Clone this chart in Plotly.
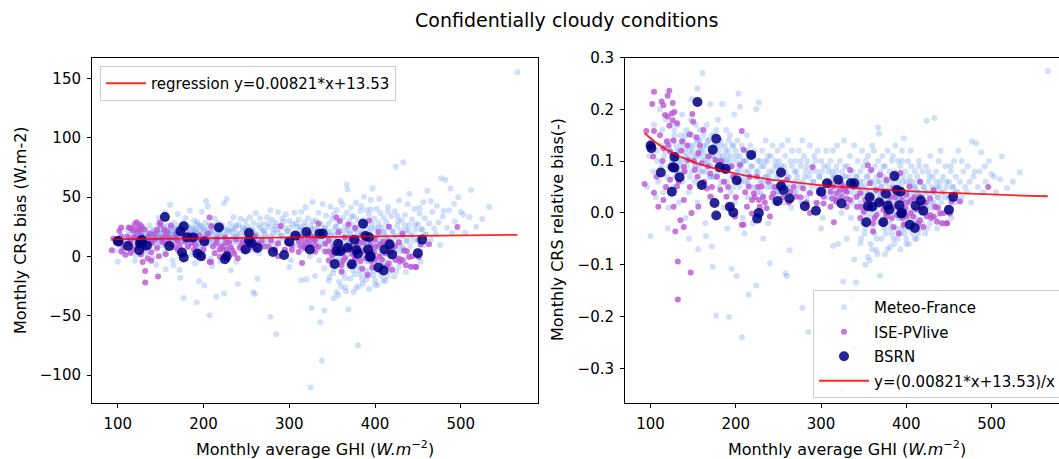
import numpy as np
import plotly.graph_objects as go

# ---------------------------------------------------------------------------
# Monthly values under confidentially cloudy conditions.
# *_ghi : monthly average GHI (W.m-2)
# *_rel : monthly CRS relative bias (-)  -> absolute bias = rel * ghi
# ---------------------------------------------------------------------------

# Meteo-France stations
mf_ghi = [
    96, 98, 100, 101, 103, 104, 106, 107, 108, 109,
    111, 112, 113, 114, 115, 116, 118, 119, 120, 121, 123, 124, 125, 127, 128, 129,
    130, 131, 132, 133, 134, 135, 136, 137, 138, 139, 140, 141, 142, 143, 144, 145, 146, 147, 148, 148, 149, 150,
    151, 152, 153, 154, 155, 155, 156, 157, 158, 159, 160, 161, 161, 162, 163, 164, 165, 166, 167, 168, 169, 170,
    170, 171, 172, 173, 174, 175, 176, 177, 178, 179, 180, 181, 182, 183, 184, 185, 186, 187, 188, 189, 189, 190,
    191, 192, 193, 194, 195, 196, 197, 198, 199, 200, 201, 202, 203, 204, 205, 205, 206, 207, 208, 209,
    210, 211, 212, 213, 214, 215, 216, 217, 218, 219, 220, 221, 222, 224, 225, 226, 227, 229,
    230, 231, 232, 234, 235, 236, 237, 238, 239, 241, 242, 243, 245, 246, 248, 249,
    250, 251, 252, 254, 255, 256, 257, 258, 260, 261, 262, 264, 265, 266, 268, 269,
    270, 271, 272, 274, 275, 276, 277, 278, 279, 280, 282, 283, 284, 286, 287, 289,
    290, 291, 292, 294, 295, 296, 297, 298, 300, 301, 302, 304, 305, 306, 308, 309,
    310, 311, 312, 313, 314, 315, 316, 317, 318, 319, 320, 321, 322, 324, 325, 326, 327, 329,
    330, 331, 332, 333, 334, 335, 336, 337, 338, 339, 340, 341, 342, 343, 344, 345, 346, 347, 348, 349, 349, 350,
    350, 351, 352, 353, 354, 355, 355, 356, 357, 358, 359, 360, 360, 361, 362, 363, 364, 365, 365, 366, 367, 367,
    368, 368, 369, 369, 370, 370,
    371, 372, 372, 373, 374, 375, 375, 376, 377, 378, 378, 379, 380, 380, 381, 382, 383, 383, 384, 385, 385, 386,
    387, 387, 388, 388, 389, 389, 390, 390,
    391, 391, 392, 393, 393, 394, 395, 395, 396, 397, 397, 398, 399, 399, 400, 400, 401, 402, 402, 403, 404, 404,
    405, 406, 406, 407, 408, 408, 409, 410,
    411, 411, 412, 413, 414, 414, 415, 416, 417, 418, 418, 419, 420, 421, 422, 423, 424, 424, 425, 426, 427, 428,
    429, 430,
    431, 432, 433, 433, 434, 435, 436, 437, 438, 439, 440, 441, 442, 443, 445, 446, 447, 449,
    450, 451, 452, 453, 455, 456, 457, 458, 460, 461, 463, 465, 467, 469,
    471, 472, 474, 476, 477, 479, 482, 484, 486, 488, 490, 493, 497, 500, 505, 510, 512, 518, 525, 533, 566,
    156, 165, 172, 173, 177, 192, 195, 201, 207, 215, 224, 240, 263, 258, 260, 278, 285, 314, 346, 355,
    357, 365, 369, 381, 393, 326, 341, 320, 339, 338, 380, 325, 352, 330, 300, 232, 210, 190, 145, 120,
    400, 410, 375, 360, 336,
    117, 121, 126, 129, 133, 136, 138, 141, 143, 146, 149, 152, 154, 157, 159, 162, 164, 167, 169, 172,
    174, 176, 179, 181, 183, 186, 188, 191, 193, 196, 198, 201, 203, 206, 208, 211, 213, 216, 218, 221,
    223, 226, 228, 231, 233, 236, 238, 241, 243, 246, 248, 251, 253, 256, 258,
    125, 128, 131, 134, 137, 140, 142, 145, 147, 150, 153, 156, 158, 161, 163, 166, 168, 171, 173, 175,
    178, 180, 182, 185, 187, 190, 192, 195, 197, 200, 204, 209, 214, 219, 224, 229, 234, 239, 244, 249,
    261, 263, 266, 268, 271, 273, 276, 278, 281, 283, 286, 288, 291, 293, 296, 298, 301, 303, 306, 308,
    311, 313, 316, 318, 321, 323, 326, 328, 331, 333, 336, 338, 341, 343, 345,
    346, 348, 351, 353, 354, 356, 358, 359, 361, 362, 364, 366, 367, 369, 371, 372, 374, 376, 377, 379,
    381, 382, 384, 386, 387, 389, 391, 392, 394, 396, 397, 399, 401, 402, 404, 406, 407, 409, 411, 412,
    414, 416, 417, 419, 421, 423, 425, 427, 429, 431, 433, 435, 437, 439, 441, 444, 447, 450, 454, 458,
    347, 352, 358, 363, 366, 371, 374, 378, 383, 386, 390, 394, 398, 403, 407, 412, 417, 422, 428, 436,
    352, 362, 373, 384, 395, 405, 415, 426, 440, 452, 465, 480, 492, 503,
]
mf_rel = [
    0.05, 0.11, -0.045, 0.14, 0.08, 0.17, 0.03, 0.12, 0.10, 0.06,
    0.20, 0.13, 0.09, 0.16, 0.04, 0.11, 0.18, 0.07, 0.14, 0.01, 0.12, 0.17, 0.09, 0.05, 0.15, 0.11,
    0.13, 0.08, 0.17, 0.02, 0.12, 0.15, 0.10, 0.19, 0.06, 0.14, 0.11, -0.01, 0.16, 0.09, 0.13, 0.04, 0.12, 0.18, 0.22, 0.08, 0.15, 0.10,
    0.13, 0.06, 0.17, 0.11, 0.24, 0.02, 0.14, 0.09, 0.16, 0.12, 0.05, 0.27, 0.10, 0.15, 0.13, -0.02, 0.08, 0.17, 0.11, 0.14, 0.07, 0.21,
    0.12, 0.09, 0.15, 0.03, 0.11, 0.13, 0.07, 0.16, 0.10, 0.18, 0.12, 0.05, 0.14, 0.09, 0.21, 0.11, 0.01, 0.13, 0.08, 0.16, 0.10, 0.06,
    0.12, 0.09, 0.15, 0.04, 0.11, 0.07, 0.13, 0.19, 0.02, 0.10, 0.08, 0.14, 0.23, 0.05, 0.205, 0.11, 0.09, 0.13, -0.01, 0.07,
    0.12, 0.06, 0.10, 0.15, 0.03, 0.08, 0.11, 0.13, 0.05, 0.09, -0.02, 0.07, 0.12, 0.20, 0.04, 0.10, 0.213, 0.06,
    0.09, 0.12, 0.03, 0.07, 0.14, 0.05, 0.10, -0.02, 0.08, 0.11, 0.06, 0.13, 0.02, 0.09, 0.07, 0.12,
    0.04, 0.10, 0.08, 0.13, 0.06, 0.02, 0.09, 0.11, 0.05, 0.14, 0.07, 0.10, 0.01, 0.12, 0.06, 0.08,
    0.10, 0.04, 0.07, 0.12, 0.05, 0.09, 0.02, 0.14, 0.06, 0.11, 0.08, 0.03, 0.10, 0.07, 0.13, 0.05,
    0.09, 0.06, 0.11, 0.02, 0.08, 0.12, 0.04, 0.07, 0.10, 0.05, -0.01, 0.09, 0.06, 0.12, 0.03, 0.08,
    0.06, 0.10, 0.04, 0.08, 0.12, 0.02, 0.07, 0.05, 0.09, 0.13, 0.03, 0.06, 0.10, 0.00, 0.08, 0.04, 0.14, 0.07,
    0.05, 0.09, 0.02, 0.07, 0.11, -0.01, 0.04, 0.08, 0.06, 0.13, 0.03, -0.03, 0.07, 0.10, 0.05, 0.01, 0.08, 0.04, 0.12, -0.02, 0.06, 0.03,
    0.09, -0.04, 0.05, 0.02, 0.07, 0.11, -0.01, 0.04, 0.08, 0.00, 0.06, 0.13, 0.03, -0.03, 0.05, 0.09, 0.01, 0.07, -0.05, 0.04, 0.165, 0.10,
    0.153, 0.02, 0.06, -0.02, 0.08, 0.03,
    0.05, -0.01, 0.11, 0.04, 0.07, 0.01, 0.09, -0.04, 0.06, 0.03, 0.12, 0.00, 0.05, 0.08, -0.02, 0.04, 0.10, 0.02, 0.06, -0.05, 0.03, 0.08,
    0.01, 0.13, 0.05, -0.03, 0.07, 0.02, 0.10, 0.04,
    -0.01, 0.06, 0.03, 0.09, -0.04, 0.05, 0.01, 0.12, 0.07, -0.02, 0.144, 0.04, 0.08, 0.00, 0.06, -0.05, 0.03, 0.10, -0.01, 0.05, 0.07, 0.02,
    -0.03, 0.04, 0.09, 0.01, 0.06, -0.02, 0.03, 0.08,
    0.05, -0.01, 0.02, 0.07, -0.04, 0.04, 0.10, 0.01, 0.06, 0.03, -0.02, 0.08, 0.05, 0.00, 0.04, 0.09, 0.178, 0.02, -0.03, 0.06, 0.03, 0.11,
    0.01, 0.05,
    0.07, 0.02, 0.183, 0.04, -0.01, 0.08, 0.05, 0.03, 0.10, 0.00, 0.06, 0.04, -0.02, 0.07, 0.03, 0.09, 0.05, 0.01,
    0.06, 0.03, 0.08, -0.01, 0.05, 0.10, 0.02, 0.07, 0.04, 0.12, 0.06, 0.03, 0.08, 0.05,
    0.04, 0.09, 0.06, 0.02, 0.138, 0.07, 0.134, 0.05, 0.08, 0.117, 0.04, 0.06, 0.10, 0.075, 0.04, 0.065, 0.109, 0.048, 0.06, 0.078, 0.274,
    -0.07, -0.045, -0.065, -0.104, -0.198, -0.201, -0.108, -0.122, -0.24, -0.158, -0.14, -0.097, -0.072, -0.117, -0.122, -0.183, -0.23, -0.064, -0.059, -0.085,
    -0.092, -0.072, -0.121, -0.066, -0.07, -0.133, -0.134, -0.06, -0.09, -0.26, -0.197, -0.34, -0.1, -0.05, -0.03, -0.05, -0.04, -0.03, -0.05, -0.03,
    -0.06, -0.05, -0.08, -0.07, -0.165,
    0.12, 0.09, 0.14, 0.07, 0.10, 0.13, 0.08, 0.15, 0.11, 0.07, 0.12, 0.09, 0.14, 0.11, 0.08, 0.12, 0.10, 0.14, 0.09, 0.11,
    0.07, 0.13, 0.09, 0.11, 0.06, 0.10, 0.12, 0.08, 0.10, 0.13, 0.07, 0.11, 0.09, 0.06, 0.10, 0.08, 0.12, 0.07, 0.09, 0.11,
    0.05, 0.08, 0.10, 0.06, 0.09, 0.07, 0.11, 0.05, 0.08, 0.10, 0.04, 0.07, 0.09, 0.06, 0.08,
    0.10, 0.16, 0.12, 0.09, 0.14, 0.12, 0.10, 0.15, 0.13, 0.11, 0.09, 0.12, 0.14, 0.08, 0.11, 0.13, 0.10, 0.07, 0.12, 0.15,
    0.08, 0.10, 0.13, 0.09, 0.06, 0.11, 0.14, 0.09, 0.05, 0.12, 0.08, 0.10, 0.06, 0.11, 0.08, 0.04, 0.10, 0.07, 0.05, 0.09,
    0.07, 0.05, 0.09, 0.04, 0.08, 0.06, 0.10, 0.05, 0.07, 0.09, 0.04, 0.08, 0.06, 0.10, 0.05, 0.07, 0.08, 0.04, 0.06, 0.09,
    0.05, 0.07, 0.03, 0.08, 0.06, 0.04, 0.07, 0.09, 0.04, 0.06, 0.02, 0.05, 0.07, 0.04, 0.06,
    0.02, 0.05, 0.00, 0.04, 0.07, 0.01, 0.03, 0.06, -0.01, 0.04, 0.02, 0.06, 0.00, 0.03, 0.05, -0.02, 0.02, 0.06, 0.01, 0.04,
    -0.03, 0.03, 0.05, 0.00, 0.07, 0.02, 0.04, -0.01, 0.03, 0.06, 0.01, -0.03, 0.04, 0.02, 0.06, 0.00, 0.03, 0.05, -0.02, 0.04,
    0.02, 0.06, 0.00, 0.03, 0.05, 0.01, 0.04, 0.07, 0.02, 0.04, 0.01, 0.06, 0.03, 0.05, 0.02, 0.04, 0.06, 0.03, 0.05, 0.04,
    -0.05, -0.03, -0.06, -0.04, -0.08, -0.05, -0.03, -0.07, -0.04, -0.06, -0.05, -0.03, -0.04, -0.06, -0.04, -0.05, -0.03, -0.04, -0.02, -0.03,
    0.10, 0.12, 0.09, 0.11, 0.10, 0.12, 0.09, 0.08, 0.12, 0.09, 0.10, 0.08, 0.09, 0.07,
]

# ISE-PVlive stations
ise_ghi = [
    104, 102, 93, 95, 104, 122, 120, 113, 115, 126, 117, 120, 125, 128, 126, 122, 131, 150, 149, 146, 162,
    103, 115, 119, 123, 137, 154, 156, 144, 139, 152, 160, 168, 176, 170, 189, 197, 205, 209, 123, 131,
    139, 127, 115, 109, 104, 135, 139, 129, 148, 156, 166, 170, 182, 189, 193, 199, 209, 213, 219, 221,
    227, 228, 232, 236, 219, 240, 230, 215, 225, 244, 248, 252, 260, 264, 271, 279, 287, 295, 303, 311,
    314, 318, 324, 330, 326, 313, 318, 207, 311, 287, 132, 147, 132, 207, 290, 315, 442, 448, 432, 496,
    355, 359, 346, 352, 350, 361, 365, 371, 373, 381, 385, 389, 395, 399, 400, 406, 412, 416, 420, 424,
    428, 434, 440, 447, 463,
    361, 373, 385, 397, 420, 357, 369, 377, 393, 404, 416, 432, 365, 385, 400, 416, 342, 334, 328, 330,
    324, 377, 408, 436, 428, 451, 453, 391, 361, 346,
    322, 330, 338, 342, 318, 311, 334, 347, 303,
    107, 111, 114, 118, 121, 124, 127, 130, 133, 136, 140, 143, 146, 151, 155, 158, 163, 167, 172, 178,
    183, 186, 191, 195, 200, 203, 211, 216, 222, 226, 234, 238, 242, 246, 255, 262, 268, 276, 283, 298,
    353, 358, 363, 368, 372, 376, 380, 383, 387, 391, 396, 401, 405, 410, 414, 418, 423, 429, 437, 444,
]
ise_rel = [
    0.234, 0.21, 0.056, 0.158, 0.158, 0.236, 0.226, 0.215, 0.208, 0.212, 0.189, 0.186, 0.192, 0.195, 0.179, 0.168, 0.173, 0.176, 0.191, 0.152, 0.16,
    0.109, 0.125, 0.138, 0.118, 0.138, 0.146, 0.115, 0.102, 0.089, 0.083, 0.096, 0.109, 0.102, 0.076, 0.083, 0.070, 0.093, 0.122, 0.064, 0.051,
    0.025, 0.012, 0.025, 0.012, 0.039, -0.014, -0.027, -0.036, 0.0, 0.012, 0.047, 0.031, 0.044, 0.031, 0.012, -0.007, -0.023, 0.012, 0.025, 0.038,
    0.025, 0.012, 0.031, 0.009, -0.001, -0.007, 0.051, 0.051, 0.07, 0.038, 0.019, 0.051, 0.064, 0.041, 0.031, 0.047, 0.038, 0.019, 0.031, 0.041,
    0.051, 0.038, 0.031, 0.041, 0.051, 0.028, 0.022, 0.158, 0.012, 0.0, -0.094, -0.115, -0.167, -0.023, 0.088, -0.018, -0.02, -0.02, -0.007, 0.05,
    0.092, 0.083, 0.038, 0.025, 0.002, 0.012, -0.004, 0.022, 0.006, 0.031, 0.012, -0.004, 0.025, 0.009, -0.007, 0.025, 0.006, -0.014, 0.019, -0.007,
    0.028, 0.012, -0.001, -0.02, 0.022,
    -0.02, -0.02, -0.027, -0.023, -0.027, 0.057, 0.073, 0.064, 0.077, 0.051, 0.06, 0.044, 0.044, 0.047, 0.035, 0.031, 0.012, 0.025, 0.044, 0.012,
    0.057, -0.007, -0.007, -0.017, -0.004, -0.001, 0.022, -0.04, -0.036, -0.01,
    0.044, 0.028, 0.05, 0.031, 0.025, 0.057, 0.083, 0.012, 0.018,
    0.07, 0.15, 0.10, 0.05, 0.13, 0.09, 0.14, 0.11, 0.06, 0.12, 0.08, 0.13, 0.05, 0.10, 0.07, 0.13, 0.06, 0.09, 0.05, 0.07,
    0.10, 0.06, 0.05, 0.09, 0.03, 0.06, 0.04, 0.07, 0.03, 0.05, 0.02, 0.06, 0.03, 0.05, 0.03, 0.02, 0.05, 0.03, 0.02, 0.04,
    0.01, 0.03, -0.01, 0.02, 0.04, 0.0, 0.02, -0.01, 0.03, 0.01, -0.01, 0.02, 0.0, 0.03, -0.02, 0.01, 0.02, -0.01, 0.01, 0.0,
]

# BSRN stations
bsrn_ghi = [
    100, 101, 112, 126, 128, 128, 125, 134, 155, 160, 173, 177, 175, 177, 181, 188, 193, 197, 201, 218,
    225, 227, 249, 253, 253, 256, 263, 281, 294, 300, 307, 320, 324, 335, 339, 353, 355, 357, 360, 368,
    373, 376, 378, 380, 386, 389, 392, 394, 393, 404, 410, 411, 417, 420, 450, 455, 395,
]
bsrn_rel = [
    0.13, 0.125, 0.078, 0.088, 0.087, 0.108, 0.041, 0.069, 0.214, 0.054, 0.122, 0.143, 0.019, -0.005, 0.088, 0.085, 0.012, 0.001, 0.063, 0.112,
    -0.011, 0.0, 0.023, 0.052, 0.078, 0.044, 0.028, 0.013, 0.004, 0.041, 0.057, 0.064, 0.018, 0.057, 0.057, -0.018, 0.013, 0.030, 0.012, 0.020,
    -0.018, 0.037, 0.014, 0.006, 0.071, 0.044, 0.015, -0.001, 0.041, -0.023, -0.029, 0.014, 0.024, 0.004, 0.006, 0.031, 0.0,
]

# Linear fit of the absolute bias against GHI
SLOPE = 0.00821
INTERCEPT = 13.53

x_ticks = [100, 200, 300, 400, 500]
abs_ticks = [-100, -50, 0, 50, 100, 150]
rel_ticks = [-0.3, -0.2, -0.1, 0.0, 0.1, 0.2, 0.3]

# ---------------------------------------------------------------------------
mf_ghi = np.asarray(mf_ghi, float)
mf_rel = np.asarray(mf_rel, float)
ise_ghi = np.asarray(ise_ghi, float)
ise_rel = np.asarray(ise_rel, float)
bsrn_ghi = np.asarray(bsrn_ghi, float)
bsrn_rel = np.asarray(bsrn_rel, float)

mf_abs = mf_rel * mf_ghi
ise_abs = ise_rel * ise_ghi
bsrn_abs = bsrn_rel * bsrn_ghi

all_ghi = np.concatenate([mf_ghi, ise_ghi, bsrn_ghi])
fit_x = np.linspace(all_ghi.min(), all_ghi.max(), 300)
fit_abs = SLOPE * fit_x + INTERCEPT
fit_rel = fit_abs / fit_x

W, H = 1059, 459
FONT = "DejaVu Sans"
TICK_FS = 15
LABEL_FS = 16
LEGEND_FS = 15
TITLE_FS = 19


def fx(p):
    return p / W


def fy(p):
    return 1 - p / H


MF_COLOR = "rgba(100,149,237,0.3)"
ISE_COLOR = "rgba(186,85,211,0.8)"
BSRN_COLOR = "rgba(0,0,128,0.85)"
FIT_COLOR = "rgba(255,0,0,0.85)"

fig = go.Figure()

panels = [
    ("x", "y", mf_abs, ise_abs, bsrn_abs, fit_abs, "legend", False,
     f"regression y={SLOPE}*x+{INTERCEPT}"),
    ("x2", "y2", mf_rel, ise_rel, bsrn_rel, fit_rel, "legend2", True,
     f"y=({SLOPE}*x+{INTERCEPT})/x"),
]

for xa, ya, mf_y, ise_y, bsrn_y, fit_y, leg, show_pts, fit_name in panels:
    fig.add_trace(go.Scatter(
        x=mf_ghi, y=mf_y, mode="markers", name="Meteo-France",
        marker=dict(size=6, color=MF_COLOR, line=dict(width=0)),
        xaxis=xa, yaxis=ya, legend=leg, showlegend=show_pts,
        legendgroup="mf"))
    fig.add_trace(go.Scatter(
        x=ise_ghi, y=ise_y, mode="markers", name="ISE-PVlive",
        marker=dict(size=6, color=ISE_COLOR, line=dict(width=0)),
        xaxis=xa, yaxis=ya, legend=leg, showlegend=show_pts,
        legendgroup="ise"))
    fig.add_trace(go.Scatter(
        x=bsrn_ghi, y=bsrn_y, mode="markers", name="BSRN",
        marker=dict(size=10, color=BSRN_COLOR, line=dict(width=0)),
        xaxis=xa, yaxis=ya, legend=leg, showlegend=show_pts,
        legendgroup="bsrn"))
    fig.add_trace(go.Scatter(
        x=fit_x, y=fit_y, mode="lines", name=fit_name,
        line=dict(color=FIT_COLOR, width=1.8),
        xaxis=xa, yaxis=ya, legend=leg, showlegend=True,
        legendgroup="fit_" + leg))

axis_common = dict(
    showline=True, linecolor="black", linewidth=1,
    ticks="outside", ticklen=4, tickwidth=1, tickcolor="black",
    showgrid=False, zeroline=False,
    tickfont=dict(family=FONT, size=TICK_FS, color="black"),
    automargin=False,
)
y_dom = [fy(403), fy(57.5)]
legend_common = dict(
    xanchor="left", yanchor="top",
    bgcolor="rgba(255,255,255,0.8)", bordercolor="#cccccc", borderwidth=1,
    font=dict(family=FONT, size=LEGEND_FS, color="black"),
    tracegroupgap=2,
)

fig.update_layout(
    width=W, height=H,
    margin=dict(l=0, r=0, t=0, b=0, autoexpand=False),
    paper_bgcolor="white", plot_bgcolor="white",
    font=dict(family=FONT, size=LABEL_FS, color="black"),
    xaxis=dict(domain=[fx(92), fx(538)], range=[70, 590], anchor="y",
               tickvals=x_ticks, mirror=True, ticklabelstandoff=3,
               **axis_common),
    yaxis=dict(domain=y_dom, range=[-123.5, 167.5], anchor="x",
               tickvals=abs_ticks, mirror=True, ticklabelstandoff=3,
               **axis_common),
    xaxis2=dict(domain=[fx(625), 1.0], range=[70, 70 + (W - 625) / 0.8525],
                anchor="y2", tickvals=x_ticks, mirror=True,
                ticklabelstandoff=3, **axis_common),
    yaxis2=dict(domain=y_dom, range=[-0.367, 0.3], anchor="x2",
                tickvals=rel_ticks,
                ticktext=[f"{v:.1f}".replace("-", "\u2212") for v in rel_ticks],
                mirror=False, ticklabelstandoff=3, **axis_common),
    legend=dict(x=fx(100), y=fy(66), itemwidth=40, **legend_common),
    legend2=dict(x=fx(813), y=fy(290), itemwidth=50, **legend_common),
    showlegend=True,
)

label_font = dict(family=FONT, size=LABEL_FS, color="black")
xlabel = "Monthly average GHI (<i>W.m</i><sup>\u22122</sup>)"
annotations = [
    dict(text="Confidentially cloudy conditions", x=fx(566), y=fy(20),
         font=dict(family=FONT, size=TITLE_FS, color="black")),
    dict(text=xlabel, x=fx(315), y=fy(448), font=label_font),
    dict(text=xlabel, x=fx(846.5), y=fy(448), font=label_font),
    dict(text="Monthly CRS bias (W.m-2)", x=fx(21), y=fy(230),
         textangle=-90, font=label_font),
    dict(text="Monthly CRS relative bias(-)", x=fx(558), y=fy(230),
         textangle=-90, font=label_font),
]
for a in annotations:
    fig.add_annotation(xref="paper", yref="paper", showarrow=False,
                       xanchor="center", yanchor="middle", **a)

fig.write_html("out.html")
